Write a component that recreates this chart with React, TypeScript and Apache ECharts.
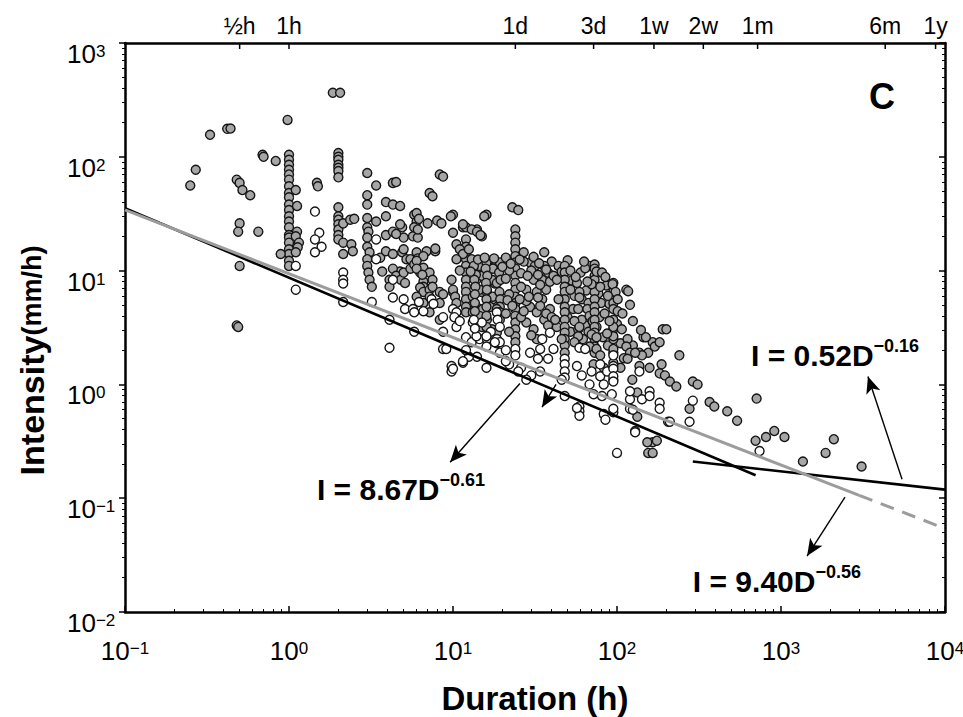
import React, { useEffect, useRef } from 'react';
import * as echarts from 'echarts';

// ---------- data (duration h, intensity mm/h) ----------
const grayPoints: [number, number][] = [
  [0.25, 56], [0.27, 77], [0.33, 156], [0.42, 176], [0.44, 177], [0.48, 63], [0.5, 59], [0.52, 51], [0.58, 46],
  [0.5, 26], [0.49, 22], [0.65, 22], [0.5, 11], [0.48, 3.3], [0.49, 3.2], [0.69, 104], [0.7, 100], [0.83, 92], [0.98, 211],
  [1, 104], [1, 94], [1, 85], [1, 77], [1, 70], [1, 63], [1, 55], [1, 48], [1, 44], [1, 38], [1, 34], [1, 30], [1, 27],
  [1, 24], [1, 20.5], [1, 19.5], [1, 17.6], [1, 15.4], [1, 14], [1, 12.2], [1, 11],
  [1.1, 51], [1.12, 37], [1.12, 22], [1.1, 20], [1.15, 17.6], [1.13, 16], [1.1, 14.5], [0.89, 14],
  [1.48, 59], [1.5, 55], [1.85, 365], [2.05, 365],
  [2, 108], [2, 100], [2, 94], [2, 85], [2, 80], [2, 75], [2, 66], [2, 36], [2, 30], [2, 28], [2, 25.5], [2, 23], [2, 20.5], [2, 18.8],
  [2.14, 26], [2.36, 28], [2.5, 28.5], [2.14, 17.6], [2.4, 17], [2.45, 14.8], [2.14, 14],
  [3, 72], [3.4, 56], [4.3, 59], [4.5, 60], [3, 46], [3, 38], [3.9, 40], [4.3, 38], [4.76, 37], [3.9, 30], [3.4, 27], [3, 29],
  [3, 24], [3.05, 22], [3, 19.5], [3, 16.2], [3.1, 14.5], [3, 12.6], [3, 11], [3.05, 9.6], [3.1, 8.3], [3.2, 7.2],
  [3.9, 20.5], [4.3, 22], [4.9, 24], [5, 19.5], [4.5, 21], [4.76, 25.5], [3.6, 13],
  [3.9, 14.8], [4.3, 14], [4.9, 14.5], [5.2, 12.6], [5, 15.4],
  [3.7, 9.8], [4.76, 9.8], [4.3, 10.4], [4.1, 8.3], [4.5, 9], [4.8, 8.3], [4.1, 7.2], [5.1, 7.8], [5, 9.6], [5.5, 10.4],
  [5.8, 31], [6, 27], [5.8, 24], [5.7, 20], [6.1, 19.5], [7, 26], [8, 27.5], [8.5, 26], [6, 32], [6.2, 28.5], [6.1, 23],
  [7.2, 48], [7.5, 45], [8.3, 70], [8.7, 67], [10, 31], [9.7, 30], [10, 21.5],
  [6, 14.5], [6.9, 14.8], [7.8, 14.8], [5.5, 12.6], [5.8, 11.3], [6.1, 12.8], [6.6, 13.4], [7.8, 15.6],
  [6, 12.2], [6.3, 9.6], [6.6, 10.6], [7.2, 9.6], [6.6, 8], [7.5, 8.3], [6, 10.4], [6.5, 9.2], [6.6, 7.2],
  [6.3, 7.1], [6.6, 6.5], [7.2, 6.8], [8.3, 6.5], [8.7, 6.2], [9.8, 8.3], [10, 6.5], [7.5, 7.2],
  [6, 5.9], [7.2, 5.9], [6.6, 5.2], [8.3, 5.2], [7.2, 4.3], [8.3, 3.7],
  [11.5, 24], [12, 24], [14, 23], [15, 20], [16, 31], [15.5, 30], [11.5, 25.5], [13, 23], [14, 22], [14.7, 20.5],
  [12, 18.8], [12, 16.2], [12, 14.5], [12, 12.6], [12, 11], [12, 9.6], [12, 8.3], [12, 7.2], [12, 6.5], [12, 5.6],
  [13, 12.6], [16.6, 11.3], [18.5, 11.8], [16.2, 8.3], [18, 7.7], [15, 6.5], [17.5, 5.6],
  [10.5, 17], [11, 15.4], [11.5, 14], [12.5, 15.4], [10.5, 12.6],
  [13.2, 10.4], [14.5, 11], [16.1, 11.3], [17.5, 10.4], [13.9, 8.3], [15, 9], [16.1, 7.8], [17.3, 8.3], [18.5, 7.8],
  [14.5, 6.8], [16.1, 6.5], [17.5, 5.9], [13.2, 5.9],
  [13.4, 11], [13.8, 9.2], [13.5, 8.3], [13.7, 7.2], [13.6, 6.2], [16, 11.8], [15.8, 10.4], [16.2, 9], [15.9, 7.8], [16.1, 6.8], [16, 5.6],
  [19.3, 11.8], [19.1, 9.6], [19.5, 8.3], [19.2, 6.5], [19.4, 5.6], [19.3, 4.8],
  [10, 6.8], [10.3, 5.9], [10.5, 5.2], [12, 4.8], [12, 4.3],
  [13.9, 4.8], [15.2, 4.6], [16.8, 4.8], [18.5, 4.6], [13.2, 4.3], [14.5, 4], [16.1, 3.7], [13.6, 5.2], [13.6, 4.4],
  [16, 4.8], [16, 4], [19.3, 4.3], [19.3, 3.7], [15, 3.2], [17.3, 3.05], [18.5, 2.85], [16, 3.2],
  [23, 36], [25, 34],
  [24, 23], [24, 20], [24, 17.6], [24, 15.4], [24, 13.4], [24, 11.8], [24, 10.4], [24, 9], [24, 7.8], [24, 6.8],
  [24, 5.9], [24, 5.2], [24, 4.6], [24, 4], [24, 3.5], [24, 3.05], [24, 2.65], [24, 2.35],
  [27, 14.5], [29.5, 11.8], [31.6, 11], [31, 8.3], [28, 6.8], [32.4, 6.5], [29.5, 4.8], [32.4, 4.3], [28, 3.5], [31, 3.05],
  [32.4, 2.5], [36, 14.5], [35, 8.3], [37, 6.8], [35, 5.6], [39, 4.6], [36, 3.7],
  [21, 13], [22, 10], [26, 9.5], [27, 12], [30, 10], [33, 9.2], [26, 7.2], [34, 7.5], [22, 6.2], [38, 9.6], [40, 12], [36, 11],
  [21, 8.5], [28, 5.4], [34, 4.9], [21, 4.2], [26, 3.9], [38, 3.3], [30, 2.7], [22, 2.9],
  [11, 10], [12.8, 9.8], [14.2, 12.5], [15.6, 13], [17.8, 12.8], [20, 10.8], [22.5, 11.5], [25.5, 12.5], [28.5, 9], [31, 13.2],
  [33.5, 11.6], [37, 10.2], [39, 8], [41, 9], [44, 11], [46, 9.8], [50, 12.3], [53, 8.2], [55, 6], [60, 9.6], [65, 6.7],
  [68, 11], [77, 6.3], [80, 5.2], [86, 7.4], [90, 5.1], [21.5, 5.5], [23, 4.9], [25.5, 5.6], [27, 4.4], [29, 5.9], [33, 5.8],
  [37, 4.2], [40, 3.9], [43, 3.2], [50, 3.9], [52, 2.9], [54, 4.6], [64, 3.3], [67, 2.9], [78, 3.9], [82, 2.6], [88, 2.2],
  [100, 3.4], [105, 2.3], [110, 1.7], [125, 2.2], [145, 2.6], [155, 1.9], [105, 1.4],
  [48, 11], [48, 9.6], [48, 8.3], [48, 7.2], [48, 6.5], [48, 5.6], [48, 4.8], [48, 4.3], [48, 3.7], [48, 3.2], [48, 2.85],
  [48, 2.5], [48, 2.2], [48, 1.9],
  [43, 8.3], [44, 5.6], [42, 3.7], [46, 2.5],
  [57, 7.8], [59, 6.5], [61, 5.6], [58, 4.6], [61, 3.7], [58, 3.05], [62, 2.5],
  [59, 5.8], [67, 5.2], [66, 4.6], [68, 4], [71, 3.6], [75, 3.2],
  [55, 3.6], [59, 3.2], [58, 2.65], [55, 2.35],
  [73, 11.3], [73, 10.4], [73, 9], [73, 8.3], [73, 7.2], [73, 6.5], [73, 5.6], [73, 4.8], [73, 4.3], [73, 3.7], [73, 3.2],
  [73, 2.85], [73, 2.5], [73, 2.15], [73, 1.9],
  [75, 9.8], [81, 9.6], [79, 7.2], [70, 7.6],
  [70, 2.75], [75, 2.6], [68, 2.15], [75, 2.05], [79, 1.8], [72, 1.5], [83, 1.4],
  [95, 7.8], [95, 6.5], [95, 5.2], [95, 4.6], [95, 3.7], [95, 3.05], [95, 2.5], [95, 1.9], [95, 3.2], [95, 2.65], [95, 2.05], [95, 1.55],
  [94, 7.6], [98, 6.5], [101, 5.6], [101, 4.4],
  [52, 10], [56, 8.8], [64, 10.5], [66, 8], [85, 8.8], [88, 6], [63, 12], [52, 6.8], [84, 4.2], [90, 3.6], [87, 2.8],
  [107, 3.05], [116, 2.5], [114, 2.15], [120, 1.9], [116, 1.68], [137, 1.9], [142, 1.8], [158, 1.4], [165, 2.35], [170, 2.15],
  [182, 2.35], [187, 1.5], [190, 3.05], [200, 3.05], [240, 1.8], [114, 6.8], [117, 6.6], [129, 1.9], [137, 1.45], [182, 1.25],
  [196, 1.2], [210, 1.06], [230, 0.96], [290, 1.06], [310, 1.0], [367, 0.7], [392, 0.64], [470, 0.58], [540, 0.48], [710, 0.75],
  [810, 0.345], [910, 0.39], [1050, 0.345], [1870, 0.25], [2100, 0.33], [3100, 0.19], [1360, 0.21], [700, 0.32], [277, 0.61],
  [165, 0.31], [153, 0.31], [175, 0.32], [155, 0.25], [165, 0.25], [129, 0.39], [133, 0.52], [205, 0.47], [124, 1.1], [133, 0.85],
  [108, 4.2], [125, 3.6], [140, 3], [150, 2.6], [120, 5],
];

const whitePoints: [number, number][] = [
  [1.1, 11], [1.1, 6.8], [1.44, 33], [1.53, 21.5], [1.44, 18.8], [1.58, 16.2], [1.44, 14.5], [2.14, 9.6], [2.14, 8.3], [2.14, 7.7], [2.14, 5.3],
  [4.3, 5.8], [5, 5.6], [5.1, 4.6], [5.7, 4.6], [3.2, 5.3], [3.4, 18.8], [3.4, 12.6], [4.1, 3.7], [5.8, 2.9], [4.1, 2.1], [4.3, 8.3],
  [7.4, 5.6], [6.2, 5.3], [7.6, 5.1], [5.8, 4.3], [8.7, 3.9], [6.6, 4.4], [8.7, 2.9], [8.7, 2.05], [9.1, 2.05], [9.8, 1.45], [9.8, 1.3],
  [18.5, 4.3], [15, 3.5], [17, 2.9], [18.5, 2.5], [10.5, 3.2], [12, 2.6], [13, 2.35], [14.5, 2.5], [14, 1.75], [16, 1.4], [18.5, 2.3],
  [11.5, 1.55], [10, 4.6], [10.5, 4.3], [10.2, 3.9], [11, 3.6], [12.5, 1.75], [18.7, 3.7], [13.2, 3.5], [13.9, 2.65], [16.1, 2.5],
  [13.4, 3.7], [13.6, 3.1], [16, 2.65], [16, 2.15], [19.3, 3.2], [19.3, 2.35], [19.3, 1.9], [10, 1.37], [11.5, 1.6], [18, 2.35], [12, 2.0],
  [24, 2.05], [24, 1.8], [29.5, 1.9], [34, 2.05], [33, 1.68], [38, 1.68], [39, 2.85], [35, 2.5], [34, 1.3], [21, 2.0], [22, 1.5],
  [26, 1.4], [30, 1.2], [21, 1.6], [25, 1.3], [28, 1.1],
  [48, 1.68], [48, 1.5], [48, 1.3], [48, 1.15], [41, 2.05], [57, 1.45], [61, 1.2], [59, 2.1], [64, 2.05], [79, 1.5], [70, 1.3],
  [79, 1.18], [87, 1.3], [68, 1.0], [72, 0.82], [83, 1.0], [93, 0.82], [81, 0.79], [95, 1.45], [95, 1.1], [95, 1.37], [95, 1.18],
  [95, 1.06], [95, 1.8],
  [59, 0.64], [59, 0.58], [59, 0.53], [83, 0.55], [85, 0.49], [95, 0.57], [48, 0.79], [46, 1.1], [57, 0.62], [95, 0.61],
  [120, 0.61], [120, 0.74], [120, 0.87], [142, 0.74], [158, 0.87], [158, 0.79], [182, 0.69], [182, 0.61], [210, 0.47], [137, 1.3],
  [100, 0.25], [740, 0.26], [125, 0.6], [129, 0.38], [277, 0.47], [290, 0.72],
];

// fitted power laws, end points of each drawn segment
const fitSteep: [number, number][] = [[0.1, 35.3], [700, 0.159]]; // I = 8.67 D^-0.61
const fitFlat: [number, number][] = [[290, 0.21], [10000, 0.119]]; // I = 0.52 D^-0.16
const fitAllSolid: [number, number][] = [[0.1, 34.1], [3000, 0.106]]; // I = 9.40 D^-0.56
const fitAllDashed: [number, number][] = [[3000, 0.106], [10000, 0.0541]];

// upper duration scale
const topTickValues = [0.5, 1, 24, 72, 168, 336, 720, 4320, 8760];
const topTickLabels = ['½h', '1h', '1d', '3d', '1w', '2w', '1m', '6m', '1y'];

// equation annotations
const eqCoefs = ['8.67', '0.52', '9.40'];
const eqExps = ['−0.61', '−0.16', '−0.56'];

const FONT = '"Liberation Sans", Arial, Helvetica, sans-serif';

const supLabel = (v: number) => {
  const e = Math.round(Math.log10(v));
  return `{b|10}{s|${e < 0 ? '−' + -e : e}}`;
};

export default function App() {
  const ref = useRef<HTMLDivElement>(null);
  useEffect(() => {
    if (!ref.current) return;
    const chart = echarts.init(ref.current, null, { renderer: 'svg' });

    const tickRich = {
      b: { fontSize: 26, lineHeight: 22, fontFamily: FONT, color: '#000' },
      s: { fontSize: 17, lineHeight: 12, verticalAlign: 'top', fontFamily: FONT, color: '#000' },
    };
    const eqRich = {
      m: { fontSize: 30, lineHeight: 36, fontWeight: 'bold', fontFamily: FONT, color: '#000' },
      s: { fontSize: 18, lineHeight: 18, fontWeight: 'bold', verticalAlign: 'top', fontFamily: FONT, color: '#000' },
    };
    const axisLine = { show: true, onZero: false, lineStyle: { color: '#000', width: 2.5 } };

    const arrowStyle = { color: '#000', width: 1.4, type: 'solid' };

    const option: any = {
      animation: false,
      backgroundColor: '#fff',
      textStyle: { fontFamily: FONT },
      grid: { left: 125, right: 18, top: 43, bottom: 105, containLabel: false, outerBoundsMode: 'none' },
      xAxis: [
        {
          type: 'log', logBase: 10, min: 0.1, max: 10000, position: 'bottom', splitNumber: 5,
          name: 'Duration (h)', nameLocation: 'middle', nameGap: 70,
          nameTextStyle: { fontSize: 33, fontWeight: 'bold', color: '#000', fontFamily: FONT },
          axisLine,
          axisTick: { show: true, inside: true, length: 6, lineStyle: { color: '#000', width: 1.5 } },
          minorTick: { show: true, splitNumber: 9, length: 3, lineStyle: { color: '#000', width: 1 } },
          splitLine: { show: false },
          minorSplitLine: { show: false },
          axisLabel: { margin: 28, formatter: supLabel, rich: tickRich },
        },
        {
          type: 'log', logBase: 10, min: 0.1, max: 10000, position: 'top',
          axisLine, axisTick: { show: false }, axisLabel: { show: false }, splitLine: { show: false },
        },
      ],
      yAxis: [
        {
          type: 'log', logBase: 10, min: 0.01, max: 1000, position: 'left', splitNumber: 5,
          name: '{a|Intensity}{b|(mm/h)}', nameLocation: 'middle', nameRotate: 90, nameGap: 76,
          nameTextStyle: {
            padding: [0, 66, 0, 0],
            rich: {
              a: { fontSize: 34, fontWeight: 'bold', color: '#000', fontFamily: FONT },
              b: { fontSize: 27, fontWeight: 'bold', color: '#000', fontFamily: FONT },
            },
          },
          axisLine,
          axisTick: { show: true, inside: false, length: 6, lineStyle: { color: '#000', width: 1.5 } },
          minorTick: { show: true, splitNumber: 9, length: 3, lineStyle: { color: '#000', width: 1 } },
          splitLine: { show: false },
          minorSplitLine: { show: false },
          axisLabel: { margin: 58, align: 'left', verticalAlign: 'top', formatter: supLabel, rich: tickRich },
        },
        {
          type: 'log', logBase: 10, min: 0.01, max: 1000, position: 'right', splitNumber: 5,
          axisLine,
          axisTick: { show: true, inside: true, length: 6, lineStyle: { color: '#000', width: 1.5 } },
          minorTick: { show: true, splitNumber: 9, length: 3, lineStyle: { color: '#000', width: 1 } },
          axisLabel: { show: false }, splitLine: { show: false },
        },
      ],
      series: [
        {
          type: 'scatter', name: 'gray', data: grayPoints, symbol: 'circle', symbolSize: 9, z: 2,
          itemStyle: { color: '#a6a6a6', borderColor: '#151515', borderWidth: 1.4, opacity: 1 },
        },
        {
          type: 'scatter', name: 'white', data: whitePoints, symbol: 'circle', symbolSize: 9, z: 2,
          itemStyle: { color: '#ffffff', borderColor: '#151515', borderWidth: 1.4, opacity: 1 },
        },
        {
          type: 'line', name: 'steep', data: fitSteep, symbol: 'none', z: 4,
          lineStyle: { color: '#000', width: 2.6 },
          markLine: {
            silent: true, symbol: ['none', 'arrow'], symbolSize: [11, 17], label: { show: false },
            lineStyle: arrowStyle,
            data: [
              [{ coord: [25.6, 1.02] }, { coord: [9.6, 0.207] }],
              [{ coord: [5470, 0.147] }, { coord: [3390, 1.175] }],
              [{ coord: [2455, 0.102] }, { coord: [1442, 0.031] }],
              [{ coord: [42.5, 1.0] }, { coord: [34.9, 0.63] }],
            ],
          },
        },
        {
          type: 'line', name: 'flat', data: fitFlat, symbol: 'none', z: 4,
          lineStyle: { color: '#000', width: 2.6 },
        },
        {
          type: 'line', name: 'allSolid', data: fitAllSolid, symbol: 'none', z: 5,
          lineStyle: { color: '#9c9c9c', width: 3 },
        },
        {
          type: 'line', name: 'allDashed', data: fitAllDashed, symbol: 'none', z: 5,
          lineStyle: { color: '#9c9c9c', width: 3, type: [14, 9] },
        },
        {
          type: 'scatter', name: 'topScale', xAxisIndex: 0, yAxisIndex: 0, clip: false, z: 6,
          data: topTickValues.map((v) => [v, 1000]),
          symbol: 'rect', symbolSize: [1.5, 6], symbolOffset: [0, 3],
          itemStyle: { color: '#000', opacity: 1 },
          label: {
            show: true, position: 'top', distance: 6,
            formatter: (p: any) => topTickLabels[p.dataIndex],
            fontSize: 23, color: '#000', fontFamily: FONT,
          },
        },
        {
          type: 'scatter', name: 'equations', clip: false, z: 7,
          data: [[1.48, 0.12], [656, 1.795], [290, 0.0187]],
          symbol: 'circle', symbolSize: 0, itemStyle: { color: '#000', opacity: 1 },
          label: {
            show: true, position: 'right', distance: 0, color: '#000',
            formatter: (p: any) => `{m|I = ${eqCoefs[p.dataIndex]}D}{s|${eqExps[p.dataIndex]}}`,
            rich: eqRich,
          },
        },
        {
          type: 'scatter', name: 'panel', clip: false, z: 7,
          data: [[4130, 336]],
          symbol: 'circle', symbolSize: 0, itemStyle: { color: '#000', opacity: 1 },
          label: { show: true, position: 'inside', formatter: 'C', fontSize: 36, fontWeight: 'bold', color: '#000', fontFamily: FONT },
        },
      ],
    };
    chart.setOption(option);
    return () => chart.dispose();
  }, []);
  return <div ref={ref} style={{ position: 'absolute', left: 0, top: 0, width: 963, height: 717 }} />;
}
